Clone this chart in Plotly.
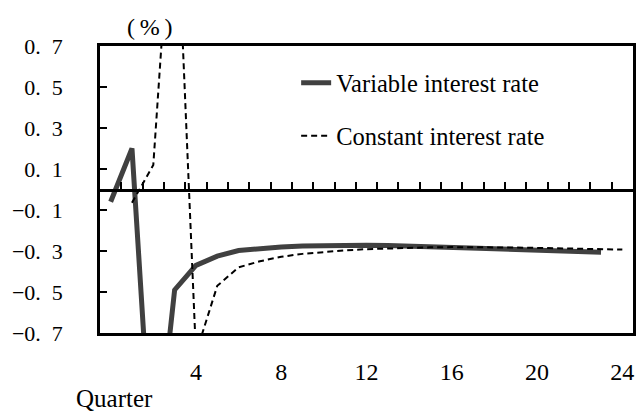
import plotly.graph_objects as go

# ---- data ----
var_quarters = list(range(0, 24))
var_values = [-0.06, 0.20, -1.45, -0.49, -0.37, -0.325, -0.298, -0.287, -0.280, -0.276,
              -0.273, -0.272, -0.272, -0.273, -0.275, -0.278, -0.281, -0.285, -0.289,
              -0.293, -0.296, -0.299, -0.302, -0.306]

const_quarters = list(range(1, 25))
const_values = [-0.065, 0.12, 1.65, -0.80, -0.47, -0.38, -0.35, -0.328, -0.314, -0.304,
                -0.297, -0.291, -0.287, -0.284, -0.282, -0.281, -0.281, -0.282, -0.283,
                -0.285, -0.287, -0.289, -0.291, -0.293]

y_tickvals = [0.7, 0.5, 0.3, 0.1, -0.1, -0.3, -0.5, -0.7]
y_ticktext = ["0.\u20027", "0.\u20025", "0.\u20023", "0.\u20021",
              "\u22120.\u20021", "\u22120.\u20023", "\u22120.\u20025", "\u22120.\u20027"]
x_tickvals = [4, 8, 12, 16, 20, 24]
x_ticktext = ["4", "8", "12", "16", "20", "24"]
minor_tickvals = [q + 0.5 for q in range(0, 24)]

SERIF = "Liberation Serif"

fig = go.Figure()
fig.add_trace(go.Scatter(
    x=var_quarters, y=var_values, mode="lines", name="Variable interest rate",
    line=dict(color="#404040", width=5), legendgroup="a",
))
fig.add_trace(go.Scatter(
    x=const_quarters, y=const_values, mode="lines", name="Constant interest rate",
    line=dict(color="#000000", width=2, dash="6px,4px"), legendgroup="b",
    xaxis="x2",
))

fig.update_layout(
    width=641, height=414,
    margin=dict(l=100, r=5, t=46, b=81),
    paper_bgcolor="white", plot_bgcolor="white",
    font=dict(family=SERIF, color="black", size=22),
    showlegend=True,
    legend=dict(x=0.368, y=0.95, xanchor="left", yanchor="top",
                bgcolor="rgba(0,0,0,0)", font=dict(size=24.5, family=SERIF),
                tracegroupgap=18),
    xaxis=dict(range=[-0.5, 24.5], showgrid=False, zeroline=False,
               showline=True, mirror=True, linecolor="black", linewidth=2.5,
               tickmode="array", tickvals=x_tickvals, ticktext=x_ticktext,
               ticks="", tickfont=dict(size=24, family=SERIF),
               ticklabelstandoff=15),
    xaxis2=dict(range=[-0.5, 24.5], overlaying="x", anchor="free", position=0.5,
                side="top", showgrid=False, zeroline=False,
                showline=True, linecolor="black", linewidth=2.5,
                tickmode="array", tickvals=minor_tickvals, ticks="outside",
                ticklen=7, tickwidth=2, tickcolor="black", showticklabels=False),
    yaxis=dict(range=[-0.7, 0.7], showgrid=False, zeroline=False,
               showline=True, mirror=True, linecolor="black", linewidth=2.5,
               tickmode="array", tickvals=y_tickvals, ticktext=y_ticktext,
               ticks="inside", ticklen=7, tickwidth=2, tickcolor="black",
               tickfont=dict(size=22, family=SERIF), ticklabelstandoff=30),
    annotations=[
        dict(text="Quarter", xref="paper", yref="paper", x=0.028, y=-0.2265,
             xanchor="center", yanchor="middle", showarrow=False,
             font=dict(size=25, family=SERIF)),
        dict(text="(\u2009%\u2009)", xref="paper", yref="paper", x=0.0933, y=1.066,
             xanchor="center", yanchor="middle", showarrow=False,
             font=dict(size=24, family=SERIF)),
    ],
)

fig.write_html("out.html")
